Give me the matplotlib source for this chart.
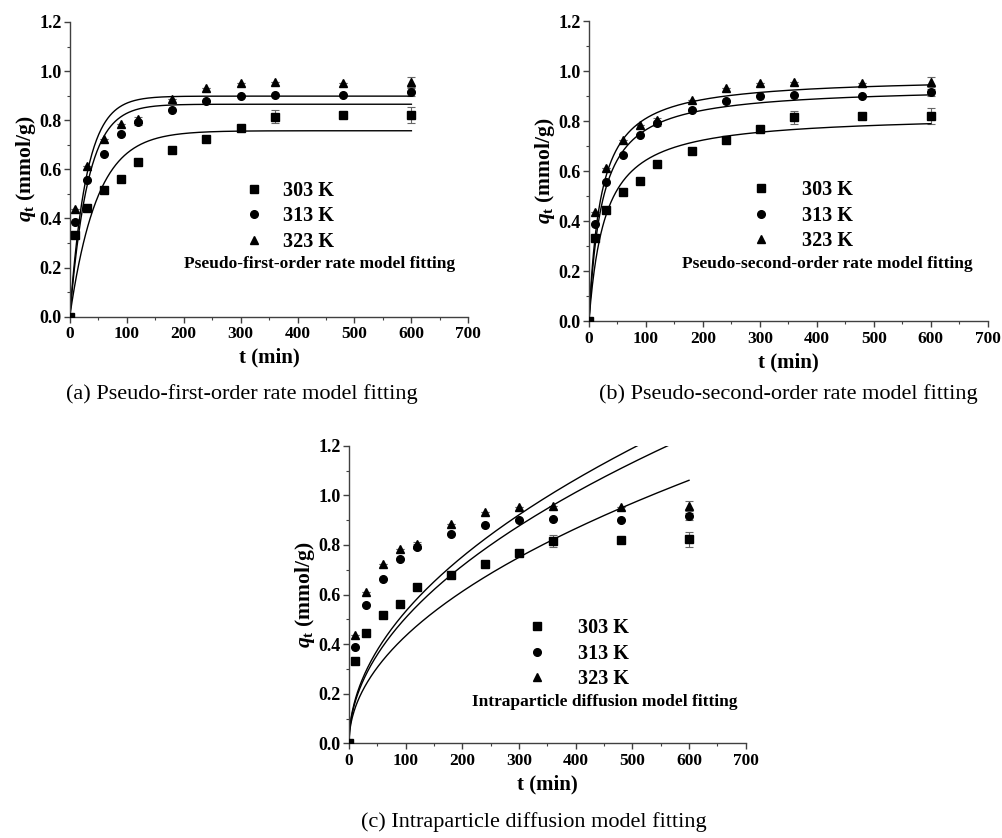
import numpy as np
import matplotlib
matplotlib.use("Agg")
import matplotlib.pyplot as plt
from matplotlib.ticker import MultipleLocator, FormatStrFormatter

plt.rcParams['font.family'] = ['Liberation Serif', 'DejaVu Serif']
plt.rcParams['mathtext.fontset'] = 'custom'
plt.rcParams['mathtext.rm'] = 'Liberation Serif:bold'
plt.rcParams['mathtext.it'] = 'Liberation Serif:italic:bold'
plt.rcParams['mathtext.bf'] = 'Liberation Serif:bold'

# contact time (min) and uptake q_t (mmol/g) at three temperatures
t_min = [0, 10, 30, 60, 90, 120, 180, 240, 300, 360, 480, 600]
q_303 = [0, 0.333, 0.443, 0.517, 0.560, 0.630, 0.680, 0.725, 0.768, 0.815, 0.820, 0.822]
q_313 = [0, 0.387, 0.558, 0.663, 0.745, 0.792, 0.843, 0.880, 0.900, 0.903, 0.902, 0.915]
q_323 = [0, 0.437, 0.612, 0.725, 0.783, 0.803, 0.885, 0.932, 0.952, 0.957, 0.952, 0.957]
err_303 = [0, 0, 0, 0, 0, 0, 0.012, 0, 0, 0.025, 0, 0.032]
err_313 = [0, 0, 0, 0, 0, 0.01, 0, 0, 0, 0, 0, 0.015]
err_323 = [0, 0, 0, 0, 0, 0.01, 0, 0, 0, 0, 0, 0.02]
temps = ['303 K', '313 K', '323 K']
markers = ['s', 'o', '^']

# fitted parameters
pfo_qe = [0.757, 0.865, 0.898]
pfo_k1 = [0.021, 0.0315, 0.0344]
pso_qe = [0.827, 0.939, 0.977]
pso_h = [0.029, 0.0413, 0.0476]   # k2 * qe^2
ipd_k = [0.0433, 0.0506, 0.0532]

t_fit = np.linspace(0, 600, 601)


def pfo(t, qe, k):
    return qe * (1 - np.exp(-k * t))


def pso(t, qe, h):
    return h * qe * t / (qe + h * t)


def ipd(t, k):
    return k * np.sqrt(t)


fig = plt.figure(figsize=(10.02, 8.38), dpi=100)
ax_a = fig.add_axes([0.0696, 0.6221, 0.3978, 0.3517])
ax_b = fig.add_axes([0.5878, 0.6169, 0.3980, 0.3580])
ax_c = fig.add_axes([0.3483, 0.1130, 0.3959, 0.3551])

# axes, fitted curves, model name, caption, legend anchor, legend text pad,
# model name position, caption position
panels = [
    (ax_a, [pfo(t_fit, q, k) for q, k in zip(pfo_qe, pfo_k1)],
     'Pseudo-first-order rate model fitting', '(a) Pseudo-first-order rate model fitting',
     (0.392, 0.522), 0.94, (0.628, 0.180), (0.2415, 0.5300)),
    (ax_b, [pso(t_fit, q, h) for q, h in zip(pso_qe, pso_h)],
     'Pseudo-second-order rate model fitting', '(b) Pseudo-second-order rate model fitting',
     (0.361, 0.530), 1.54, (0.597, 0.190), (0.7864, 0.5300)),
    (ax_c, [ipd(t_fit, k) for k in ipd_k],
     'Intraparticle diffusion model fitting', '(c) Intraparticle diffusion model fitting',
     (0.403, 0.4815), 1.54, (0.645, 0.140), (0.533, 0.0195)),
]

for ax, curves, model_name, caption, leg_xy, leg_pad, name_xy, cap_xy in panels:
    handles = []
    for q, e, m, lab in zip([q_303, q_313, q_323], [err_303, err_313, err_323], markers, temps):
        ax.errorbar(t_min, q, yerr=e, fmt='none', ecolor='0.4', elinewidth=0.8,
                    capsize=3, capthick=0.8, zorder=2)
        h, = ax.plot(t_min, q, m, color='black', markersize=5.5, linestyle='none',
                     label=lab, zorder=3)
        handles.append(h)
    for c in curves:
        ax.plot(t_fit, c, color='black', linewidth=1.0, zorder=2)

    ax.set_xlim(0, 700)
    ax.set_ylim(0, 1.2)
    ax.xaxis.set_major_locator(MultipleLocator(100))
    ax.xaxis.set_minor_locator(MultipleLocator(50))
    ax.yaxis.set_major_locator(MultipleLocator(0.2))
    ax.yaxis.set_minor_locator(MultipleLocator(0.1))
    ax.yaxis.set_major_formatter(FormatStrFormatter('%.1f'))
    ax.spines['top'].set_visible(False)
    ax.spines['right'].set_visible(False)
    for s in ('left', 'bottom'):
        ax.spines[s].set_linewidth(1.0)
        ax.spines[s].set_color('0.25')
    ax.tick_params(which='major', direction='out', length=4, width=1.0, color='0.25')
    ax.tick_params(which='minor', direction='out', length=2.5, width=0.8, color='0.25')
    ax.tick_params(axis='x', labelsize=12.5, pad=3)
    ax.tick_params(axis='y', labelsize=13, pad=2)
    for lbl in ax.get_xticklabels() + ax.get_yticklabels():
        lbl.set_fontweight('bold')
    ax.set_xlabel('t (min)', fontsize=15, fontweight='bold', labelpad=4)
    ax.set_ylabel(r'$q_\mathregular{t}$ (mmol/g)', fontsize=15.5, fontweight='bold',
                  labelpad=1)

    ax.legend(handles=handles, loc='upper left', bbox_to_anchor=leg_xy,
              frameon=False, prop={'size': 14.5, 'weight': 'bold'},
              handletextpad=leg_pad, labelspacing=0.27, handlelength=1.0)
    ax.text(name_xy[0], name_xy[1], model_name, transform=ax.transAxes,
            ha='center', va='center', fontsize=12.5, fontweight='bold')

    fig.text(cap_xy[0], cap_xy[1], caption, ha='center', va='center', fontsize=16)

fig.savefig('out.png', dpi=100)
